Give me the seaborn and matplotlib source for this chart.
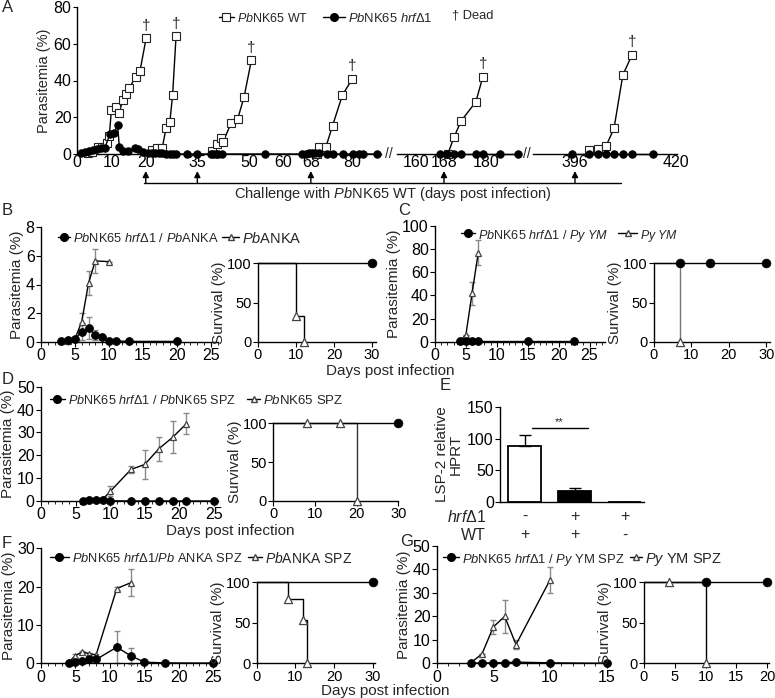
import matplotlib
matplotlib.use("Agg")
import matplotlib.pyplot as plt
import matplotlib.transforms as mtrans
from matplotlib.lines import Line2D
from matplotlib.ticker import MultipleLocator
import seaborn as sns

sns.set_style("ticks")
plt.rcParams['font.family'] = ['Liberation Sans', 'DejaVu Sans']
plt.rcParams['mathtext.fontset'] = 'custom'
plt.rcParams['mathtext.rm'] = 'Liberation Sans'
plt.rcParams['mathtext.it'] = 'Liberation Sans:italic'
plt.rcParams['axes.linewidth'] = 1.0
plt.rcParams['axes.edgecolor'] = 'black'
plt.rcParams['xtick.color'] = 'black'
plt.rcParams['ytick.color'] = 'black'

# ---------------- data ----------------
# A: WT controls (one group per challenge) and hrfΔ1 mice
a_wt1_day = [3.2, 4.4, 6.0, 7.4, 8.6, 9.4, 10.0, 11.3, 12.3, 13.3, 14.2, 15.2, 17.1, 18.3, 20.1]
a_wt1_val = [0.5, 1.3, 3.8, 3.8, 6, 10, 24, 25.5, 22.5, 29.5, 32.5, 36, 42, 45, 63]
a_wt2_day = [21.7, 23.2, 24.8, 25.9, 27.0, 27.8, 28.8]
a_wt2_val = [2, 3.5, 3.5, 14, 17.5, 32, 64]
a_wt3_day = [39.4, 40.8, 41.8, 42.5, 44.8, 46.7, 48.6, 50.7]
a_wt3_val = [1.6, 5.4, 8.5, 6.7, 16.7, 18.9, 31.2, 50.9]
a_wt4_day = [69.7, 70.4, 72.4, 74.3, 77.2, 80.1]
a_wt4_val = [0, 3.6, 4, 15.3, 32.2, 40.9]
a_wt5_day = [169.1, 170.9, 172.9, 177.1, 179.1]
a_wt5_val = [0, 9.3, 18, 28.4, 42]
a_wt6_day = [399.3, 401.5, 403.4, 405.3, 407.4, 409.6]
a_wt6_val = [2.2, 2.7, 4.3, 14, 43, 54]

a_hrf_day = [1.2, 2.3, 3.5, 4.7, 5.8, 7.0, 8.1, 9.6, 10.8, 11.8, 12.3, 13.5, 14.9, 16.9, 17.8,
             19.3, 20.6, 21.7, 22.7, 23.7, 24.7, 25.9, 26.9, 27.9, 28.9, 32, 34.9, 38.9, 39.5,
             40.3, 41, 42.1, 54.7, 65.3, 66.6, 67.4, 68.3, 69.2, 70.4, 72.6, 74.5, 77.4, 80.3,
             82.1, 83.1, 87.1]
a_hrf_val = [0.3, 1, 1.5, 2, 2.5, 3, 3.5, 10.7, 11.3, 16, 4, 1.6, 1.6, 3.1, 2.5,
             1.3, 0.5, 0.3, 0.3, 0.3, 0.3, 0, 0, 0, 0, 0, 0, 0, 0,
             0, 0, 0, 0, 0, 0, 0.5, 0.5, 0.5, 0.5, 0, 0, 0, 0,
             0, 0, 0]
a_hrf2_day = [166.9, 168.9, 170.9, 172.9, 177.1, 179.1, 184, 189.1]
a_hrf2_val = [0, 0, 0, 0, 0, 0, 0, 0]
a_hrf3_day = [395.3, 399.3, 401.5, 403.4, 405.3, 407.4, 409.6, 414.6]
a_hrf3_val = [0, 0, 0, 0, 0, 0, 0, 0]
challenge_days = [20, 35, 68, 168, 396]

# B
b_dot_day = [3, 4, 5, 6, 7, 8, 9, 10, 11, 13, 20]
b_dot_val = [0.05, 0.1, 0.2, 0.7, 0.95, 0.45, 0.3, 0.02, 0.05, 0.02, 0.02]
b_dot_err = [0, 0, 0, 0.6, 0.75, 0.35, 0, 0, 0, 0, 0]
b_tri_day = [3, 4, 5, 6, 7, 8, 10]
b_tri_val = [0.02, 0.05, 0.2, 1.4, 4.1, 5.65, 5.6]
b_tri_err = [0, 0, 0, 0.6, 0.85, 0.85, 0]
b_surv_dot_day = [0, 30]
b_surv_dot_val = [100, 100]
b_surv_tri_day = [0, 10, 12]
b_surv_tri_val = [100, 33, 0]

# C
c_dot_day = [4, 5, 6, 7, 15, 22.5]
c_dot_val = [0.3, 0.3, 0.3, 0.3, 0.3, 0.3]
c_tri_day = [4, 5, 6, 7]
c_tri_val = [0.3, 6, 42, 77]
c_tri_err = [0, 0, 10, 10.5]
c_surv_dot_day = [0, 7, 15, 30]
c_surv_dot_val = [100, 100, 100, 100]
c_surv_tri_day = [0, 7]
c_surv_tri_val = [100, 0]

# D
d_dot_day = [6, 7, 8, 9, 10, 13, 15, 17, 19, 21, 25]
d_dot_val = [0, 0.3, 0.3, 0.5, 0.1, 0, 0, 0, 0, 0, 0]
d_dot_err = [0, 0.4, 0.3, 0.6, 0, 0, 0, 0, 0, 0, 0]
d_tri_day = [6, 7, 8, 9, 10, 13, 15, 17, 19, 21]
d_tri_val = [0.2, 1, 0.7, 1, 4.2, 13.8, 16, 22.8, 27.8, 33.8]
d_tri_err = [0, 0.5, 0.5, 0.8, 2.2, 1.4, 6.5, 5.3, 7, 4.5]
d_surv_dot_day = [0, 30]
d_surv_dot_val = [100, 100]
d_surv_tri_day = [0, 8, 16, 20]
d_surv_tri_val = [100, 100, 100, 0]

# E
e_groups = ['WT', 'hrf+WT', 'hrf']
e_vals = [89, 18, 0]
e_err = [16, 4, 0]
e_hrf_row = ['-', '+', '+']
e_wt_row = ['+', '+', '-']

# F
f_dot_day = [4, 5, 6, 7, 8, 11, 13, 15, 18, 25]
f_dot_val = [0.2, 0.4, 0.7, 1, 1, 4.2, 2, 0.3, 0.1, 0.05]
f_dot_err = [0, 0, 0, 0.4, 0.4, 4.1, 2.1, 0, 0, 0]
f_tri_day = [4, 5, 6, 7, 8, 11, 13]
f_tri_val = [0.3, 2, 3, 2.5, 2.2, 19.5, 21]
f_tri_err = [0, 0.3, 0.3, 0.3, 0.3, 0.5, 3.5]
f_surv_dot_day = [0, 30]
f_surv_dot_val = [100, 100]
f_surv_tri_day = [0, 8, 12, 13]
f_surv_tri_val = [100, 80, 53, 0]

# G
g_dot_day = [3, 4, 5, 6, 7, 10, 15]
g_dot_val = [0.1, 0.1, 0.2, 0.3, 0.5, 0.2, 0]
g_tri_day = [3, 4, 5, 6, 7, 10]
g_tri_val = [0.2, 4, 15.5, 20, 8, 35.5]
g_tri_err = [0, 0, 3, 7, 2, 5.5]
g_surv_dot_day = [0, 10, 20]
g_surv_dot_val = [100, 100, 100]
g_surv_tri_day = [0, 4, 10]
g_surv_tri_val = [100, 100, 0]

# ---------------- figure ----------------
W, H = 775, 698
fig = plt.figure(figsize=(W / 100, H / 100), dpi=100)
renderer = fig.canvas.get_renderer()


def px_axes(l, t, r, b):
    return fig.add_axes([l / W, 1 - b / H, (r - l) / W, (b - t) / H])


def fx(x):
    return x / W


def fy(y):
    return 1 - y / H


FS = 11.5    # tick labels
SFS = 10.5   # tick labels of survival panels
LFS = 11     # axis labels
ERR = '#8a8a8a'
dot_kw = dict(color='black', lw=1, marker='o', markersize=5.5, markerfacecolor='black',
              markeredgecolor='black', clip_on=False, zorder=4)
tri_kw = dict(color='black', lw=1, marker='^', markersize=5, markerfacecolor='white',
              markeredgecolor='#444444', markeredgewidth=0.9, clip_on=False, zorder=3)
sq_kw = dict(color='black', lw=1, marker='s', markersize=5.6, markerfacecolor='white',
             markeredgecolor='#222222', markeredgewidth=0.8, clip_on=False, zorder=3)

# ---- Panel A ----
segs = [(77, 381, (0, 88.4), [0, 10, 20, 35, 50, 60, 68, 80]),
        (397, 520, (154.6, 189.7), [160, 168, 180]),
        (533, 677, (386, 420.3), [396, 420])]
a_axes = []
for i, (l, r, xl, xt) in enumerate(segs):
    ax = px_axes(l, 7, r, 154)
    ax.set_xlim(*xl)
    ax.set_ylim(0, 80)
    ax.set_xticks(xt)
    ax.tick_params(axis='x', length=0, labelsize=FS, pad=1)
    ax.tick_params(axis='y', length=3, labelsize=FS, pad=1)
    ax.set_facecolor('none')
    sns.despine(ax=ax)
    if i > 0:
        ax.spines['left'].set_visible(False)
        ax.set_yticks([])
    else:
        ax.set_yticks([0, 20, 40, 60, 80])
        ax.set_ylabel('Parasitemia (%)', fontsize=10.5, labelpad=2)
    a_axes.append(ax)

wt_groups = [(0, a_wt1_day, a_wt1_val), (0, a_wt2_day, a_wt2_val), (0, a_wt3_day, a_wt3_val),
             (0, a_wt4_day, a_wt4_val), (1, a_wt5_day, a_wt5_val), (2, a_wt6_day, a_wt6_val)]
for k, d, v in wt_groups:
    sns.lineplot(x=d, y=v, ax=a_axes[k], **sq_kw)
    a_axes[k].annotate('†', xy=(d[-1], v[-1]), xytext=(0, 4), textcoords='offset points',
                       ha='center', va='bottom', fontsize=11)
for k, d, v in [(0, a_hrf_day, a_hrf_val), (1, a_hrf2_day, a_hrf2_val), (2, a_hrf3_day, a_hrf3_val)]:
    sns.lineplot(x=d, y=v, ax=a_axes[k], color='black', lw=1, marker='o', markersize=5.3,
                 markerfacecolor='black', markeredgecolor='black', clip_on=False, zorder=5)

for day in challenge_days:
    k = 0 if day < 100 else (1 if day < 300 else 2)
    a_axes[k].annotate('', xy=(day, fy(171)), xytext=(day, fy(183)),
                       xycoords=('data', 'figure fraction'), textcoords=('data', 'figure fraction'),
                       arrowprops=dict(arrowstyle='-|>', color='black', lw=1, mutation_scale=9,
                                       shrinkA=0, shrinkB=0))
fig.add_artist(Line2D([fx(144), fx(621)], [fy(183), fy(183)], color='black', lw=1))
fig.text(fx(393), fy(194), r'Challenge with $\it{Pb}$NK65 WT (days post infection)',
         ha='center', va='center', fontsize=10.5)
for xb in [389, 527]:
    fig.text(fx(xb), fy(154), '//', ha='center', va='center', fontsize=10)


def entry(hx, tx, y, width, label, style):
    """legend entry: short line with marker from hx, label text starting at tx,
    font size fitted so that the label is `width` pixels wide"""
    fig.add_artist(Line2D([fx(hx), fx(tx - 3)], [fy(y), fy(y)], color='black', lw=1))
    fig.add_artist(Line2D([fx((hx + tx - 3) / 2)], [fy(y)], **style))
    t = fig.text(fx(tx), fy(y), label, ha='left', va='center_baseline', fontsize=10)
    w = t.get_window_extent(renderer).width
    t.set_fontsize(10 * width / w)


sq_st = dict(marker='s', markersize=5.6, markerfacecolor='white', markeredgecolor='#222222',
             markeredgewidth=0.8, lw=0)
dot_st = dict(marker='o', markersize=5.5, markerfacecolor='black', markeredgecolor='black', lw=0)
tri_st = dict(marker='^', markersize=5, markerfacecolor='white', markeredgecolor='#444444', lw=0)

entry(219, 237, 17, 71, r'$\it{Pb}$NK65 WT', sq_st)
entry(323, 348, 17, 84, r'$\it{Pb}$NK65 $\it{hrfΔ1}$', dot_st)
fig.text(fx(452), fy(15), '† Dead', ha='left', va='center', fontsize=9.3)


# ---- helpers for B-G ----
def para_panel(box, xlim, xticks, ylim, yticks, dots, tris):
    ax = px_axes(*box)
    dd, dv, de = dots
    td, tv, te = tris
    if te is not None:
        ax.errorbar(td, tv, yerr=te, fmt='none', ecolor=ERR, elinewidth=1, capsize=2.5,
                    capthick=1, zorder=2, clip_on=False)
    if de is not None:
        ax.errorbar(dd, dv, yerr=de, fmt='none', ecolor=ERR, elinewidth=1, capsize=2.5,
                    capthick=1, zorder=2, clip_on=False)
    sns.lineplot(x=td, y=tv, ax=ax, **tri_kw)
    sns.lineplot(x=dd, y=dv, ax=ax, **dot_kw)
    ax.set_xlim(*xlim)
    ax.set_ylim(*ylim)
    ax.set_xticks(xticks)
    ax.set_yticks(yticks)
    ax.xaxis.set_minor_locator(MultipleLocator(1))
    ax.tick_params(which='major', length=3.5, labelsize=FS, pad=1)
    ax.tick_params(which='minor', axis='x', length=2)
    ax.set_ylabel('Parasitemia (%)', fontsize=LFS, labelpad=1)
    sns.despine(ax=ax)
    return ax


def surv_panel(box, xlim, xticks, dots, tris, drop_color='black'):
    ax = px_axes(*box)
    dd, dv = dots
    td, tv = tris
    ax.step(td, tv, where='post', color=drop_color, lw=1, zorder=2, clip_on=False)
    sns.lineplot(x=dd, y=dv, ax=ax, color='black', lw=1, clip_on=False, zorder=3)
    sns.scatterplot(x=td[1:], y=tv[1:], ax=ax, marker='^', s=34, color='white',
                    edgecolor='#444444', linewidth=0.9, clip_on=False, zorder=4)
    sns.scatterplot(x=dd[1:], y=dv[1:], ax=ax, marker='o', s=40, color='black',
                    edgecolor='black', clip_on=False, zorder=5)
    ax.set_xlim(*xlim)
    ax.set_ylim(0, 100)
    ax.set_xticks(xticks)
    ax.set_yticks([0, 50, 100])
    ax.tick_params(which='major', length=3.5, labelsize=SFS, pad=1)
    ax.set_ylabel('Survival (%)', fontsize=LFS, labelpad=0.5)
    sns.despine(ax=ax)
    return ax


# ---- B ----
para_panel((41, 227.3, 217.5, 341.7), (0, 26), [0, 5, 10, 15, 20, 25], (0, 8), [0, 2, 4, 6, 8],
           (b_dot_day, b_dot_val, b_dot_err), (b_tri_day, b_tri_val, b_tri_err))
surv_panel((258, 263.3, 375.8, 341.7), (0, 31), [0, 10, 20, 30],
           (b_surv_dot_day, b_surv_dot_val), (b_surv_tri_day, b_surv_tri_val))
entry(58, 73, 236.7, 145, r'$\it{Pb}$NK65 $\it{hrfΔ1}$ / $\it{Pb}$ANKA', dot_st)
entry(222, 242, 236.7, 60, r'$\it{Pb}$ANKA', tri_st)

# ---- C ----
para_panel((435, 226, 605, 341.7), (0, 27.5), [0, 5, 10, 15, 20, 25], (0, 100),
           [0, 20, 40, 60, 80, 100],
           (c_dot_day, c_dot_val, None), (c_tri_day, c_tri_val, c_tri_err))
surv_panel((654, 263.3, 770, 341.7), (0, 31), [0, 10, 20, 30],
           (c_surv_dot_day, c_surv_dot_val), (c_surv_tri_day, c_surv_tri_val), drop_color='#777777')
entry(461, 478, 233.3, 130, r'$\it{Pb}$NK65 $\it{hrfΔ1}$ / $\it{Py\ YM}$', dot_st)
entry(618, 640, 233.3, 38, r'$\it{Py\ YM}$', tri_st)
fig.text(fx(390), fy(371), 'Days post infection', ha='center', va='center', fontsize=LFS)

# ---- D ----
para_panel((41, 386.7, 217.5, 501), (0, 25.5), [0, 5, 10, 15, 20, 25], (0, 50),
           [0, 10, 20, 30, 40, 50],
           (d_dot_day, d_dot_val, d_dot_err), (d_tri_day, d_tri_val, d_tri_err))
surv_panel((273.3, 423.3, 398.3, 501), (0, 30), [0, 10, 20, 30],
           (d_surv_dot_day, d_surv_dot_val), (d_surv_tri_day, d_surv_tri_val), drop_color='#333333')
entry(50, 68, 399.3, 168, r'$\it{Pb}$NK65 $\it{hrfΔ1}$ / $\it{Pb}$NK65 SPZ', dot_st)
entry(247, 263, 399.3, 80, r'$\it{Pb}$NK65 SPZ', tri_st)
fig.text(fx(230), fy(531), 'Days post infection', ha='center', va='center', fontsize=LFS)

# ---- E ----
ax = px_axes(500, 406.7, 644, 502.3)
sns.barplot(x=e_groups, y=e_vals, hue=e_groups, palette=['white', 'black', 'white'],
            edgecolor='black', linewidth=1.3, width=0.66, legend=False, ax=ax)
ax.errorbar([0, 1, 2], e_vals, yerr=[[0, 0, 0], e_err], fmt='none', ecolor='black',
            elinewidth=1, capsize=4, capthick=1, zorder=3)
ax.set_xlim(-0.494, 2.39)
ax.set_ylim(0, 150)
ax.set_yticks([0, 50, 100, 150])
ax.set_xticks([])
ax.tick_params(axis='y', length=3.5, labelsize=FS, pad=1)
ax.set_ylabel('LSP-2 relative\nHPRT', fontsize=LFS, labelpad=3, linespacing=1.0)
ax.set_xlabel('')
sns.despine(ax=ax)
ax.plot([0.14, 1.27], [116, 116], color='black', lw=1)
ax.text(0.7, 118, '**', ha='center', va='bottom', fontsize=8)
row_tr = mtrans.blended_transform_factory(ax.transData, fig.transFigure)
for i in range(3):
    ax.text(i, fy(516.7), e_hrf_row[i], transform=row_tr, ha='center', va='center', fontsize=FS)
    ax.text(i, fy(535), e_wt_row[i], transform=row_tr, ha='center', va='center', fontsize=FS)
fig.text(fx(486), fy(516.7), r'$\it{hrfΔ1}$', ha='right', va='center', fontsize=FS)
fig.text(fx(486), fy(535), 'WT', ha='right', va='center', fontsize=FS)

# ---- F ----
para_panel((41, 548.3, 216.7, 663.3), (0, 25.5), [0, 5, 10, 15, 20, 25], (0, 30), [0, 10, 20, 30],
           (f_dot_day, f_dot_val, f_dot_err), (f_tri_day, f_tri_val, f_tri_err))
surv_panel((256.7, 582.3, 374.7, 663.3), (0, 30.5), [0, 10, 20, 30],
           (f_surv_dot_day, f_surv_dot_val), (f_surv_tri_day, f_surv_tri_val))
entry(50, 72, 556.7, 170, r'$\it{Pb}$NK65 $\it{hrfΔ1/Pb}$ ANKA SPZ', dot_st)
entry(248, 265, 556.7, 87, r'$\it{Pb}$ANKA SPZ', tri_st)

# ---- G ----
para_panel((436.7, 546, 610, 663.3), (0, 15.3), [0, 5, 10, 15], (0, 50), [0, 10, 20, 30, 40, 50],
           (g_dot_day, g_dot_val, None), (g_tri_day, g_tri_val, g_tri_err))
surv_panel((644, 582.3, 769, 663.3), (0, 20.3), [0, 5, 10, 15, 20],
           (g_surv_dot_day, g_surv_dot_val), (g_surv_tri_day, g_surv_tri_val))
entry(443, 462, 557.3, 162, r'$\it{Pb}$NK65 $\it{hrfΔ1}$ / $\it{Py}$ YM SPZ', dot_st)
entry(630, 645, 557.3, 77, r'$\it{Py}$ YM SPZ', tri_st)
fig.text(fx(385), fy(691), 'Days post infection', ha='center', va='center', fontsize=LFS)

# panel letters
for letter, x, y in [('A', 2, 8), ('B', 2, 210), ('C', 398, 211), ('D', 2, 380),
                     ('E', 440, 386), ('F', 2, 543), ('G', 400, 541)]:
    fig.text(fx(x), fy(y), letter, ha='left', va='center', fontsize=12)

fig.savefig('out.png', dpi=100)
